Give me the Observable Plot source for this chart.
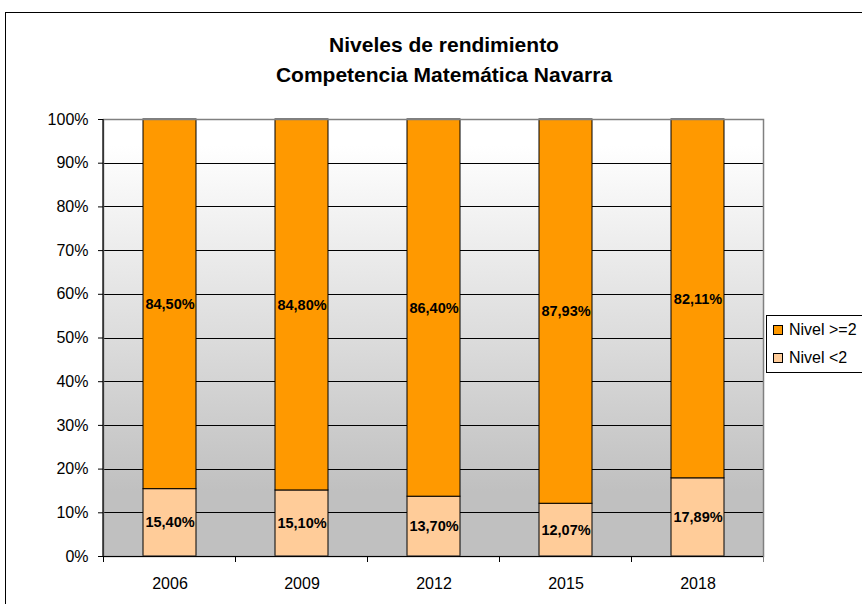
<!DOCTYPE html>
<html>
<head>
<meta charset="utf-8">
<script src="https://cdn.jsdelivr.net/npm/d3@7"></script>
<script src="https://cdn.jsdelivr.net/npm/@observablehq/plot@0.6"></script>
<style>
  html, body { margin: 0; padding: 0; background: #fff; }
  body { width: 862px; height: 604px; overflow: hidden; position: relative; font-family: "Liberation Sans", Arial, sans-serif; }
  #border { position: absolute; left: 5px; top: 12px; width: 900px; height: 700px; border: 1px solid #000; box-sizing: border-box; }
  #chart { position: absolute; left: 0; top: 0; }
  #title { position: absolute; left: 0; top: 30px; width: 888px; text-align: center; font-weight: bold; font-size: 21px; line-height: 30px; color: #000; }
  #legend { position: absolute; left: 766px; top: 315px; width: 130px; height: 58px; border: 1px solid #000; box-sizing: border-box; background: #fff; font-size: 16px; }
  .li { height: 28px; display: flex; align-items: center; }
  .sw { width: 8px; height: 8px; border: 1px solid #000; margin-left: 6px; margin-right: 6px; }
</style>
</head>
<body>
<div id="border"></div>
<div id="chart"></div>
<div id="title">Niveles de rendimiento<br>Competencia Matemática Navarra</div>
<div id="legend"></div>
<script>
const years = ["2006", "2009", "2012", "2015", "2018"];
const nivelBajo = [15.40, 15.10, 13.70, 12.07, 17.89];   // Nivel <2
const nivelAlto = [84.50, 84.80, 86.40, 87.93, 82.11];   // Nivel >=2
const series = ["Nivel <2", "Nivel >=2"];
const seriesColors = ["#FFCC99", "#FF9900"];
const yTicks = [0, 0.1, 0.2, 0.3, 0.4, 0.5, 0.6, 0.7, 0.8, 0.9, 1];
const gridTicks = [0.1, 0.2, 0.3, 0.4, 0.5, 0.6, 0.7, 0.8, 0.9];

const rows = [];
years.forEach((y, i) => {
  rows.push({year: y, serie: series[0], value: nivelBajo[i]});
  rows.push({year: y, serie: series[1], value: nivelAlto[i]});
});
const fmt = v => v.toFixed(2).replace(".", ",") + "%";

// category boundary ticks below the x axis, computed from the band scale
const boundaryTicks = (index, scales) => {
  const {x, y} = scales;
  const step = x(years[1]) - x(years[0]);
  const bw = x.bandwidth();
  const off = (step - bw) / 2;
  const xs = years.map(d => x(d) - off).concat([x(years[years.length - 1]) + bw + off]);
  const y0 = y(0);
  const g = d3.create("svg:g");
  g.selectAll("line").data(xs).join("line")
    .attr("x1", d => d).attr("x2", d => d)
    .attr("y1", y0).attr("y2", y0 + 6)
    .attr("stroke", (d, i) => i === xs.length - 1 ? "#808080" : "#000")
    .attr("shape-rendering", "crispEdges");
  return g.node();
};

// black left axis line
const leftAxisLine = (index, scales, values, dims) => {
  const {y} = scales;
  const x0 = dims.marginLeft;
  return d3.create("svg:line")
    .attr("x1", x0).attr("x2", x0)
    .attr("y1", y(1)).attr("y2", y(0))
    .attr("stroke", "#000").attr("stroke-width", 1.2)
    .node();
};

const svg = Plot.plot({
  width: 862,
  height: 604,
  marginLeft: 103,
  marginRight: 99,
  marginTop: 119,
  marginBottom: 48,
  style: {background: "transparent", fontFamily: "'Liberation Sans', Arial, sans-serif", fontSize: "16px", color: "#000"},
  x: {domain: years, paddingInner: 0.6, paddingOuter: 0.3, label: null},
  y: {domain: [0, 1], label: null},
  color: {domain: series, range: seriesColors},
  marks: [
    Plot.frame({fill: "url(#bggrad)", stroke: null}),
    Plot.ruleY(gridTicks, {stroke: "#000", strokeWidth: 1, shapeRendering: "crispEdges"}),
    Plot.barY(rows, {x: "year", y: "value", fill: "serie", z: "serie", offset: "normalize", stroke: "#000", strokeWidth: 1}),
    Plot.text(rows, Plot.stackY({x: "year", y: "value", z: "serie", offset: "normalize", text: d => fmt(d.value), fontWeight: "bold", fontSize: 14.5, fill: "#000"})),
    Plot.frame({stroke: "#808080", strokeWidth: 1.5}),
    Plot.ruleY([0], {stroke: "#000", strokeWidth: 1.2}),
    leftAxisLine,
    Plot.axisY({ticks: yTicks, tickFormat: d3.format(".0%"), tickSize: 5, tickPadding: 10, fontSize: 16, label: null}),
    Plot.axisX({tickSize: 0, tickPadding: 21, fontSize: 16, label: null}),
    boundaryTicks
  ]
});

d3.select(svg).insert("defs", ":first-child").html(
  '<linearGradient id="bggrad" x1="0" y1="0" x2="0" y2="1">' +
  '<stop offset="0" stop-color="#FFFFFF"/>' +
  '<stop offset="0.06" stop-color="#FFFFFF"/>' +
  '<stop offset="0.85" stop-color="#C0C0C0"/>' +
  '<stop offset="1" stop-color="#C0C0C0"/>' +
  '</linearGradient>'
);
document.getElementById("chart").appendChild(svg);

// legend (top series first)
const legend = d3.select("#legend");
[1, 0].forEach(i => {
  const item = legend.append("div").attr("class", "li");
  item.append("div").attr("class", "sw").style("background", seriesColors[i]);
  item.append("span").text(series[i]);
});
</script>
</body>
</html>
